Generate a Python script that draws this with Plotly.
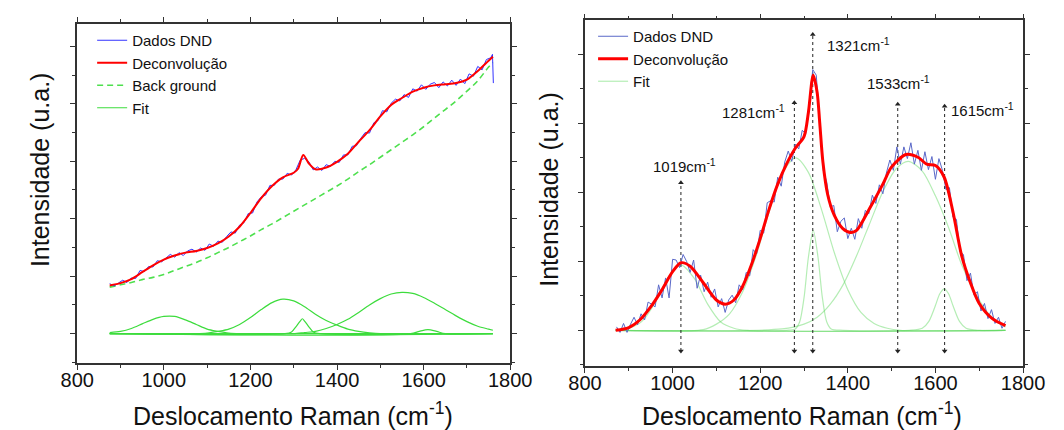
import plotly.graph_objects as go

# ---------------- LEFT PANEL DATA ----------------
DATA_L_X = list(range(875, 1756, 10)) + [1759, 1761]
DATA_L_Y = [0.87, 0.83, 0.88, 0.93, 0.89, 0.97, 0.96, 1.10, 1.08, 1.17,
            1.16, 1.27, 1.25, 1.32, 1.38, 1.33, 1.41, 1.36, 1.44, 1.47,
            1.42, 1.49, 1.45, 1.56, 1.52, 1.61, 1.59, 1.69, 1.77, 1.75,
            1.89, 1.93, 2.09, 2.10, 2.29, 2.38, 2.41, 2.58, 2.58, 2.69,
            2.69, 2.79, 2.76, 2.85, 3.02, 3.05, 2.99, 2.85, 2.90, 2.84,
            2.94, 2.91, 3.00, 2.98, 3.11, 3.11, 3.26, 3.27, 3.40, 3.50,
            3.49, 3.67, 3.71, 3.88, 3.86, 4.01, 4.08, 4.05, 4.16, 4.11,
            4.26, 4.22, 4.33, 4.25, 4.34, 4.37, 4.28, 4.38, 4.31, 4.41,
            4.32, 4.43, 4.35, 4.52, 4.48, 4.65, 4.59, 4.77, 4.80,
            4.86, 4.36]

RED_L_X = [875, 900, 925, 950, 975, 1000, 1025, 1050, 1075, 1100, 1125, 1150, 1175,
           1200, 1225, 1250, 1275, 1300, 1310, 1322, 1335, 1350, 1375, 1400, 1425,
           1450, 1475, 1500, 1525, 1550, 1575, 1600, 1625, 1650, 1675, 1700, 1725,
           1750, 1760]
RED_L_Y = [0.84, 0.88, 0.95, 1.07, 1.19, 1.29, 1.36, 1.41, 1.44, 1.49, 1.57, 1.69, 1.86,
           2.10, 2.36, 2.57, 2.72, 2.80, 2.87, 3.11, 2.96, 2.86, 2.89, 2.99, 3.13,
           3.34, 3.54, 3.78, 3.98, 4.10, 4.21, 4.28, 4.32, 4.34, 4.36, 4.42, 4.57,
           4.75, 4.82]

COMP_L_X = list(range(875, 1751, 25)) + [1760]
BG_L_Y = [0.81, 0.85, 0.89, 0.94, 0.98, 1.03, 1.10, 1.17, 1.24, 1.32, 1.41, 1.50, 1.60,
          1.70, 1.81, 1.91, 2.02, 2.13, 2.24, 2.35, 2.46, 2.57, 2.69, 2.82, 2.94,
          3.07, 3.20, 3.33, 3.46, 3.60, 3.75, 3.90, 4.05, 4.22, 4.40, 4.64, 4.72]
FIT_L1_Y = [0.02, 0.04, 0.09, 0.17, 0.25, 0.30, 0.30, 0.24, 0.16, 0.08, 0.04, 0.01, 0.00] + [0.0] * 24
FIT_L2_Y = [0.0] * 9 + [0.01, 0.04, 0.08, 0.16, 0.28, 0.42, 0.54, 0.60, 0.57, 0.47, 0.34,
                        0.23, 0.15, 0.08, 0.04, 0.015, 0.0] + [0.0] * 11
FIT_L3_Y = [0.0] * 18 + [0.02, 0.04, 0.09, 0.16, 0.25, 0.37, 0.50, 0.61, 0.69, 0.72, 0.70,
                         0.63, 0.53, 0.42, 0.31, 0.21, 0.13, 0.08, 0.06]
FIT_L4_X = [875, 1280, 1295, 1305, 1315, 1320, 1325, 1335, 1345, 1360, 1760]
FIT_L4_Y = [0, 0, 0.03, 0.12, 0.22, 0.26, 0.22, 0.12, 0.03, 0, 0]
FIT_L5_X = [875, 1570, 1590, 1610, 1630, 1650, 1760]
FIT_L5_Y = [0, 0, 0.04, 0.07, 0.04, 0, 0]

# ---------------- RIGHT PANEL DATA ----------------
DATA_R_X = list(range(872, 1761, 8))
DATA_R_Y = [0.05, -0.03, 0.10, -0.03, 0.09, 0.19, 0.08, 0.24, 0.15, 0.41,
            0.38, 0.34, 0.66, 0.47, 0.76, 0.47, 1.03, 1.02, 0.91, 1.10,
            1.00, 0.84, 1.02, 0.61, 0.80, 0.56, 0.70, 0.48, 0.60, 0.34,
            0.46, 0.26, 0.44, 0.51, 0.40, 0.66, 0.59, 0.84, 0.79, 1.17,
            1.11, 1.45, 1.41, 1.85, 1.88, 1.86, 2.22, 2.09, 2.44, 2.60,
            2.45, 2.70, 2.63, 2.90, 2.85, 3.35, 3.78, 3.70, 3.05, 2.32,
            2.15, 1.79, 1.81, 1.43, 1.58, 1.63, 1.33, 1.48, 1.32, 1.62,
            1.48, 1.74, 1.69, 1.96, 1.84, 2.11, 1.98, 2.28, 2.47, 2.32,
            2.66, 2.41, 2.66, 2.49, 2.72, 2.41, 2.61, 2.32, 2.59, 2.33,
            2.52, 2.19, 2.49, 2.32, 2.04, 2.07, 1.64, 1.61, 1.14, 1.10,
            0.72, 0.83, 0.51, 0.56, 0.28, 0.39, 0.17, 0.30, 0.10, 0.19,
            0.03, 0.13]

RED_R_X = [870, 900, 925, 950, 975, 1000, 1019, 1040, 1070, 1100, 1120, 1140, 1160, 1180,
           1200, 1220, 1240, 1260, 1280, 1300, 1310, 1321, 1330, 1336, 1343, 1354, 1369,
           1388, 1407, 1420, 1450, 1480, 1500, 1533, 1560, 1580, 1600, 1620, 1640, 1660,
           1680, 1700, 1730, 1760]
RED_R_Y = [0.00, 0.04, 0.15, 0.34, 0.58, 0.85, 0.98, 0.93, 0.69, 0.44, 0.38, 0.44, 0.64, 0.95,
           1.33, 1.75, 2.12, 2.41, 2.64, 2.81, 3.16, 3.70, 3.45, 3.00, 2.45, 1.97, 1.67,
           1.48, 1.42, 1.45, 1.77, 2.12, 2.37, 2.55, 2.51, 2.41, 2.39, 2.22, 1.72, 1.08,
           0.69, 0.39, 0.17, 0.07]

FIT_RA_X = [870, 900, 930, 960, 990, 1019, 1050, 1080, 1110, 1140, 1170, 1760]
FIT_RA_Y = [0.00, 0.03, 0.13, 0.40, 0.77, 0.95, 0.75, 0.38, 0.12, 0.03, 0.00, 0.00]
FIT_RB_X = [870, 1070, 1100, 1130, 1160, 1190, 1220, 1250, 1281, 1310, 1340, 1370, 1400,
            1430, 1460, 1490, 1520, 1760]
FIT_RB_Y = [0, 0.01, 0.09, 0.24, 0.56, 1.07, 1.71, 2.27, 2.50, 2.29, 1.75, 1.11, 0.59,
            0.26, 0.10, 0.03, 0.00, 0]
FIT_RC_X = [870, 1260, 1280, 1290, 1300, 1310, 1321, 1332, 1342, 1352, 1362, 1390, 1760]
FIT_RC_Y = [0, 0, 0.02, 0.12, 0.47, 1.06, 1.45, 1.06, 0.47, 0.12, 0.02, 0, 0]
FIT_RD_X = [870, 1250, 1300, 1330, 1360, 1390, 1420, 1450, 1480, 1510, 1538, 1570, 1600,
            1630, 1660, 1690, 1720, 1750, 1760]
FIT_RD_Y = [0, 0.02, 0.09, 0.19, 0.38, 0.67, 1.08, 1.55, 2.01, 2.34, 2.45, 2.31, 1.95,
            1.49, 0.95, 0.55, 0.25, 0.08, 0.05]
FIT_RE_X = [870, 1540, 1570, 1585, 1600, 1610, 1620, 1630, 1640, 1655, 1670, 1700, 1760]
FIT_RE_Y = [0, 0, 0.03, 0.13, 0.36, 0.53, 0.60, 0.53, 0.36, 0.13, 0.03, 0, 0]

# peak markers (vertical dotted arrows) and their labels
ARROW_X = [1019, 1278, 1320, 1514, 1621]
ARROW_TOP = [2.14, 3.30, 4.29, 3.28, 3.25]
ARROW_BOTTOM = -0.30
PEAK_LABELS = ["1019", "1281", "1321", "1533", "1615"]

X_TICKS = [800, 1000, 1200, 1400, 1600, 1800]

# ---------------- layout constants ----------------
W, H = 1064, 430
LABEL_POS = [(1027, 2.39, "center"), (1261, 3.18, "right"), (1347, 4.14, "left"),
             (1515, 3.60, "center"), (1631, 3.20, "left")]

FONT = "Liberation Sans, Arial, sans-serif"
AX = "#333333"

fig = go.Figure()

# ---- left traces ----
fit_l_col = "#3ddc3d"
for i, (fx, fy) in enumerate([(COMP_L_X, FIT_L1_Y), (COMP_L_X, FIT_L2_Y), (COMP_L_X, FIT_L3_Y),
                              (FIT_L4_X, FIT_L4_Y), (FIT_L5_X, FIT_L5_Y)]):
    fig.add_trace(go.Scatter(x=fx, y=fy, mode="lines", name="Fit", legendgroup="fitl",
                             showlegend=(i == 0), legendrank=4, legend="legend",
                             line=dict(color=fit_l_col, width=1.2, shape="spline", smoothing=0.8),
                             xaxis="x", yaxis="y"))
fig.add_trace(go.Scatter(x=COMP_L_X, y=BG_L_Y, mode="lines", name="Back ground", legendrank=3,
                         legend="legend",
                         line=dict(color="#4ee04e", width=1.6, dash="6px,4px", shape="spline"),
                         xaxis="x", yaxis="y"))
fig.add_trace(go.Scatter(x=DATA_L_X, y=DATA_L_Y, mode="lines", name="Dados DND", legendrank=1,
                         legend="legend", line=dict(color="#3333ff", width=1),
                         xaxis="x", yaxis="y"))
fig.add_trace(go.Scatter(x=RED_L_X, y=RED_L_Y, mode="lines", name="Deconvolução", legendrank=2,
                         legend="legend",
                         line=dict(color="#ff0000", width=2, shape="spline", smoothing=0.8),
                         xaxis="x", yaxis="y"))

# ---- right traces ----
fit_r_col = "rgba(90,215,90,0.45)"
for i, (fx, fy) in enumerate([(FIT_RA_X, FIT_RA_Y), (FIT_RB_X, FIT_RB_Y), (FIT_RC_X, FIT_RC_Y),
                              (FIT_RD_X, FIT_RD_Y), (FIT_RE_X, FIT_RE_Y)]):
    fig.add_trace(go.Scatter(x=fx, y=fy, mode="lines", name="Fit", legendgroup="fitr",
                             showlegend=(i == 0), legendrank=3, legend="legend2",
                             line=dict(color=fit_r_col, width=1.2, shape="spline", smoothing=0.8),
                             xaxis="x2", yaxis="y2"))
for xa, yt in zip(ARROW_X, ARROW_TOP):
    fig.add_trace(go.Scatter(x=[xa, xa], y=[ARROW_BOTTOM, yt], mode="lines+markers",
                             showlegend=False, hoverinfo="skip",
                             line=dict(color="#222222", width=1, dash="dot"),
                             marker=dict(symbol=["triangle-down", "triangle-up"], size=5,
                                         color="#222222"),
                             xaxis="x2", yaxis="y2"))
fig.add_trace(go.Scatter(x=DATA_R_X, y=DATA_R_Y, mode="lines", name="Dados DND", legendrank=1,
                         legend="legend2", line=dict(color="#5a68c8", width=1),
                         xaxis="x2", yaxis="y2"))
fig.add_trace(go.Scatter(x=RED_R_X, y=RED_R_Y, mode="lines", name="Deconvolução", legendrank=2,
                         legend="legend2",
                         line=dict(color="#ff0000", width=3, shape="spline", smoothing=0.8),
                         xaxis="x2", yaxis="y2"))

annotations = []
for lab, (lx, ly, anc) in zip(PEAK_LABELS, LABEL_POS):
    annotations.append(dict(x=lx, y=ly, xref="x2", yref="y2", text=f"{lab}cm<sup>-1</sup>",
                            showarrow=False, xanchor=anc, yanchor="middle",
                            font=dict(size=15, color="#111111", family=FONT)))

title_font = dict(size=25, color="#111111", family=FONT)
annotations += [
    dict(x=287 / W, y=1 - 414 / H, xref="paper", yref="paper",
         text="Deslocamento Raman (cm<sup>-1</sup>)", showarrow=False,
         xanchor="center", yanchor="middle", font=title_font),
    dict(x=815 / W, y=1 - 414 / H, xref="paper", yref="paper",
         text="Deslocamento Raman (cm<sup>-1</sup>)", showarrow=False,
         xanchor="center", yanchor="middle", font=title_font),
    dict(x=24 / W, y=1 - 170 / H, xref="paper", yref="paper", text="Intensidade (u.a.)",
         textangle=-90, showarrow=False, xanchor="center", yanchor="middle", font=title_font),
    dict(x=552 / W, y=1 - 189 / H, xref="paper", yref="paper", text="Intensidade (u.a.)",
         textangle=-90, showarrow=False, xanchor="center", yanchor="middle", font=title_font),
]


def xaxis_cfg(domain, anchor):
    return dict(domain=domain, anchor=anchor, range=[800, 1800], tickvals=X_TICKS,
                ticks="outside", ticklen=5, tickwidth=1.2, tickcolor=AX,
                showline=True, linecolor=AX, linewidth=1.5, mirror="ticks",
                showgrid=False, zeroline=False, ticklabelstandoff=-7,
                tickfont=dict(size=20, color="#111111", family=FONT),
                minor=dict(dtick=100, tick0=800, ticks="outside", ticklen=3,
                           tickcolor=AX, tickwidth=1.2))


def yaxis_cfg(domain, anchor, rng):
    return dict(domain=domain, anchor=anchor, range=rng, dtick=1, tick0=0,
                ticks="outside", ticklen=5, tickwidth=1.2, tickcolor=AX,
                showline=True, linecolor=AX, linewidth=1.5, mirror="ticks",
                showgrid=False, zeroline=False, showticklabels=False,
                minor=dict(dtick=0.5, tick0=0, ticks="outside", ticklen=3,
                           tickcolor=AX, tickwidth=1.2))


fig.update_layout(
    width=W, height=H, margin=dict(l=0, r=0, t=0, b=0),
    paper_bgcolor="white", plot_bgcolor="white",
    font=dict(family=FONT, color="#111111"),
    xaxis=xaxis_cfg([62.5 / W, 512 / W], "y"),
    yaxis=yaxis_cfg([1 - 363.4 / H, 1 - 23.7 / H], "x", [-0.517, 5.393]),
    xaxis2=xaxis_cfg([589.6 / W, 1044.3 / W], "y2"),
    yaxis2=yaxis_cfg([1 - 366 / H, 1 - 20.4 / H], "x2", [-0.517, 4.494]),
    legend=dict(x=78 / W, y=1 - 24 / H, xanchor="left", yanchor="top",
                bgcolor="rgba(0,0,0,0)", borderwidth=0, tracegroupgap=0,
                font=dict(size=15, color="#111111", family=FONT)),
    legend2=dict(x=598 / W, y=1 - 20 / H, xanchor="left", yanchor="top",
                 bgcolor="rgba(0,0,0,0)", borderwidth=0, tracegroupgap=0,
                 font=dict(size=15, color="#111111", family=FONT)),
    annotations=annotations,
    showlegend=True,
)

fig.write_html("out.html", config={"displayModeBar": False},
               post_script="document.body.style.margin='0px';")
